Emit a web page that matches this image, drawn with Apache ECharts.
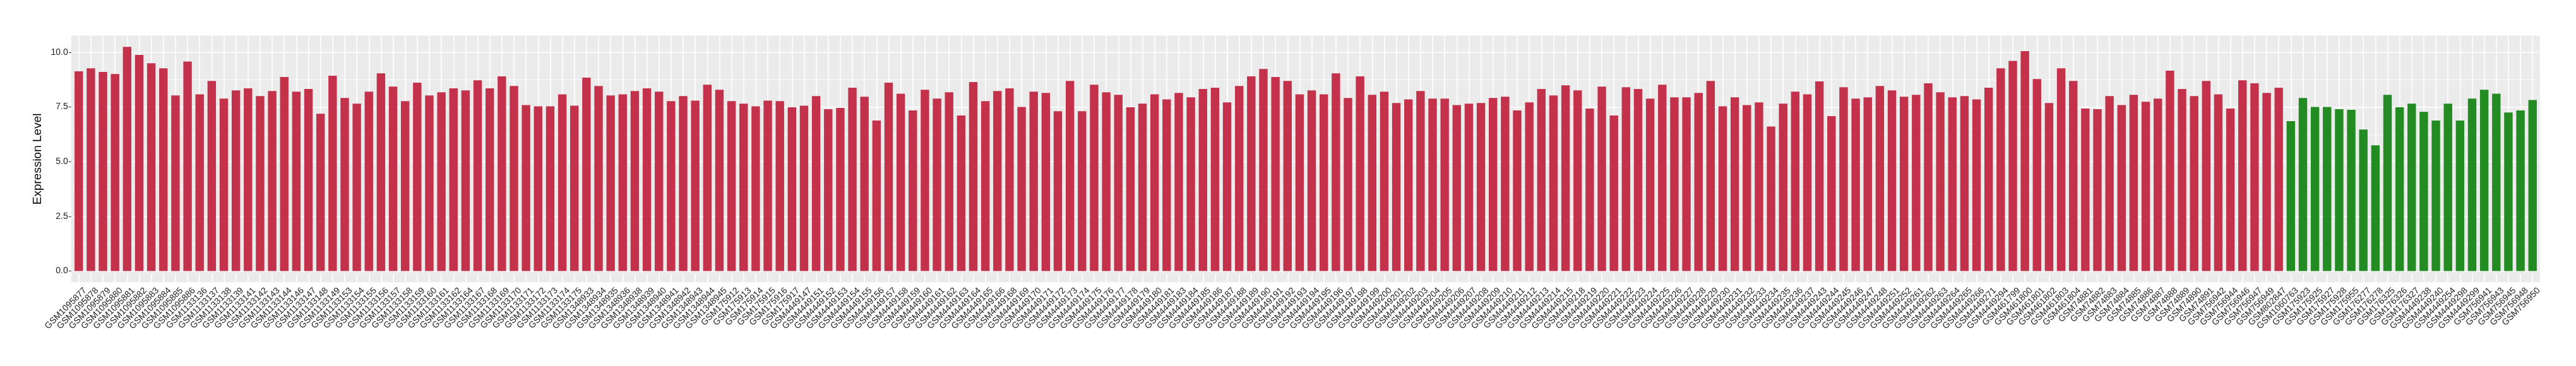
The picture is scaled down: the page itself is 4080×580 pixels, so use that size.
<!DOCTYPE html>
<html>
<head>
<meta charset="utf-8">
<script src="https://cdn.jsdelivr.net/npm/echarts@6/dist/echarts.min.js"></script>
<style>
html,body{margin:0;padding:0;background:#fff;}
#chart{width:4080px;height:580px;}
</style>
</head>
<body>
<div id="chart"></div>
<script>
// Tumor samples (red)
const redSamples = [
 'GSM1095877','GSM1095878','GSM1095879','GSM1095880','GSM1095881','GSM1095882','GSM1095883','GSM1095884','GSM1095885','GSM1095886',
 'GSM1133136','GSM1133137','GSM1133138','GSM1133139','GSM1133141','GSM1133142','GSM1133143','GSM1133144','GSM1133146','GSM1133147',
 'GSM1133148','GSM1133149','GSM1133153','GSM1133154','GSM1133155','GSM1133156','GSM1133157','GSM1133158','GSM1133159','GSM1133160',
 'GSM1133161','GSM1133162','GSM1133164','GSM1133167','GSM1133168','GSM1133169','GSM1133170','GSM1133171','GSM1133172','GSM1133173',
 'GSM1133174','GSM1133175',
 'GSM1348933','GSM1348934','GSM1348935','GSM1348936','GSM1348938','GSM1348939','GSM1348940','GSM1348941','GSM1348942','GSM1348943',
 'GSM1348944','GSM1348945',
 'GSM175912','GSM175913','GSM175914','GSM175915','GSM175916','GSM175917',
 'GSM4449147','GSM4449151','GSM4449152','GSM4449153','GSM4449154','GSM4449155','GSM4449156','GSM4449157','GSM4449158','GSM4449159',
 'GSM4449160','GSM4449161','GSM4449162','GSM4449163','GSM4449164','GSM4449165','GSM4449166','GSM4449168','GSM4449169','GSM4449170',
 'GSM4449171','GSM4449172','GSM4449173','GSM4449174','GSM4449175','GSM4449176','GSM4449177','GSM4449178','GSM4449179','GSM4449180',
 'GSM4449181','GSM4449183','GSM4449184','GSM4449185','GSM4449186','GSM4449187','GSM4449188','GSM4449189','GSM4449190','GSM4449191',
 'GSM4449192','GSM4449193','GSM4449194','GSM4449195','GSM4449196','GSM4449197','GSM4449198','GSM4449199','GSM4449200','GSM4449201',
 'GSM4449202','GSM4449203','GSM4449204','GSM4449205','GSM4449206','GSM4449207','GSM4449208','GSM4449209','GSM4449210','GSM4449211',
 'GSM4449212','GSM4449213','GSM4449214','GSM4449215','GSM4449218','GSM4449219','GSM4449220','GSM4449221','GSM4449222','GSM4449223',
 'GSM4449224','GSM4449225','GSM4449226','GSM4449227','GSM4449228','GSM4449229','GSM4449230','GSM4449231','GSM4449232','GSM4449233',
 'GSM4449234','GSM4449235','GSM4449236','GSM4449237','GSM4449243','GSM4449244','GSM4449245','GSM4449246','GSM4449247','GSM4449248',
 'GSM4449251','GSM4449252','GSM4449261','GSM4449262','GSM4449263','GSM4449264','GSM4449265','GSM4449266','GSM4449271','GSM4449294',
 'GSM461799','GSM461800','GSM461801','GSM461802','GSM461803','GSM461804',
 'GSM74881','GSM74882','GSM74883','GSM74884','GSM74885','GSM74886','GSM74887','GSM74888','GSM74889','GSM74890','GSM74891',
 'GSM756942','GSM756944','GSM756946','GSM756947','GSM756949','GSM802847'
];
const redValues = [
 9.13,9.27,9.10,9.01,10.25,9.88,9.50,9.27,8.03,9.58,
 8.08,8.69,7.88,8.26,8.35,8.00,8.23,8.87,8.20,8.32,
 7.19,8.93,7.91,7.65,8.20,9.04,8.43,7.77,8.61,8.03,
 8.17,8.35,8.26,8.72,8.35,8.90,8.46,7.59,7.53,7.53,
 8.08,7.56,
 8.84,8.46,8.03,8.08,8.23,8.35,8.20,7.77,8.00,7.79,
 8.52,8.29,
 7.77,7.65,7.53,7.79,7.77,7.49,
 7.56,8.00,7.40,7.46,8.38,7.97,6.88,8.61,8.11,7.34,
 8.29,7.88,8.17,7.11,8.64,7.77,8.23,8.35,7.50,8.20,
 8.14,7.31,8.69,7.31,8.52,8.17,8.06,7.49,7.65,8.08,
 7.85,8.14,7.94,8.32,8.38,7.71,8.46,8.90,9.24,8.87,
 8.69,8.08,8.26,8.08,9.04,7.91,8.90,8.06,8.20,7.68,
 7.85,8.23,7.88,7.88,7.59,7.65,7.68,7.91,7.97,7.34,
 7.71,8.32,8.03,8.49,8.26,7.43,8.43,7.11,8.40,8.32,
 7.88,8.52,7.94,7.94,8.14,8.69,7.53,7.94,7.59,7.71,
 6.61,7.65,8.20,8.08,8.67,7.08,8.40,7.88,7.94,8.46,
 8.26,7.97,8.06,8.58,8.17,7.94,8.00,7.85,8.38,9.27,
 9.61,10.05,8.78,7.68,9.27,8.69,
 7.43,7.40,8.00,7.59,8.06,7.74,7.88,9.16,8.32,8.00,8.69,
 8.08,7.43,8.72,8.58,8.14,8.38
];
// Normal samples (green)
const greenSamples = [
 'GSM1060763','GSM175923','GSM175925','GSM175927','GSM175928','GSM175955','GSM176277','GSM176278','GSM176325','GSM176326',
 'GSM176327','GSM4449238','GSM4449240','GSM4449254','GSM4449298','GSM4449299','GSM756941','GSM756943','GSM756945','GSM756948',
 'GSM756950'
];
const greenValues = [
 6.85,7.91,7.50,7.50,7.40,7.37,6.47,5.75,8.06,7.49,
 7.65,7.28,6.88,7.65,6.88,7.88,8.29,8.11,7.25,7.34,
 7.82
];
const yTicks = [0, 2.5, 5, 7.5, 10];
const yMinorTicks = [1.25, 3.75, 6.25, 8.75];

const RED = '#C3314A', GREEN = '#228B22';
const categories = redSamples.concat(greenSamples);
const barData = redValues.map(v => ({value: v, itemStyle: {color: RED}}))
  .concat(greenValues.map(v => ({value: v, itemStyle: {color: GREEN}})));

const gridLines = []
  .concat(yTicks.map(v => ({yAxis: v, lineStyle: {width: 1.6}})))
  .concat(yMinorTicks.map(v => ({yAxis: v, lineStyle: {width: 0.8}})))
  .concat(categories.map(c => ({xAxis: c, lineStyle: {width: 1.6}})));

const FONT = "'Liberation Sans', Arial, Helvetica, sans-serif";
const TEXT = '#222222';
const chart = echarts.init(document.getElementById('chart'), null, {renderer: 'canvas'});
chart.setOption({
  animation: false,
  backgroundColor: '#ffffff',
  textStyle: {fontFamily: FONT},
  graphic: [{
    type: 'rect', silent: true, z: 0,
    shape: {x: 112.7, y: 56.5, width: 3910, height: 390.8},
    style: {fill: '#EBEBEB'}
  }],
  grid: {left: 115.2, right: 59.2, top: 56.5, bottom: 132.7, containLabel: false, show: false},
  xAxis: {
    type: 'category',
    data: categories,
    boundaryGap: true,
    axisLine: {show: false},
    axisTick: {show: true, alignWithLabel: true, interval: 0, length: 4, lineStyle: {color: '#333333', width: 1}},
    axisLabel: {interval: 0, rotate: 45, fontSize: 14, color: TEXT, margin: 1,
      padding: [7, 0, 0, 0],
      align: 'right', verticalAlign: 'top', fontFamily: FONT},
    splitLine: {show: false}
  },
  yAxis: {
    type: 'value',
    min: -0.51, max: 10.76,
    offset: 2.5,
    name: 'Expression Level',
    nameLocation: 'middle',
    nameGap: 38,
    nameTextStyle: {fontSize: 19, color: '#000000', fontFamily: FONT},
    axisLine: {show: false},
    axisTick: {show: true, length: 4, customValues: yTicks, lineStyle: {color: '#333333', width: 1}},
    axisLabel: {customValues: yTicks, fontSize: 14, color: TEXT, margin: 5, fontFamily: FONT,
      formatter: v => Number(v).toFixed(1)},
    splitLine: {show: false}
  },
  series: [{
    type: 'bar',
    data: barData,
    barWidth: '70%',
    z: 2,
    silent: true,
    markLine: {
      z: 1,
      silent: true,
      symbol: 'none',
      label: {show: false},
      emphasis: {disabled: true},
      lineStyle: {type: 'solid', color: '#FFFFFF'},
      data: gridLines
    }
  }]
});
</script>
</body>
</html>
